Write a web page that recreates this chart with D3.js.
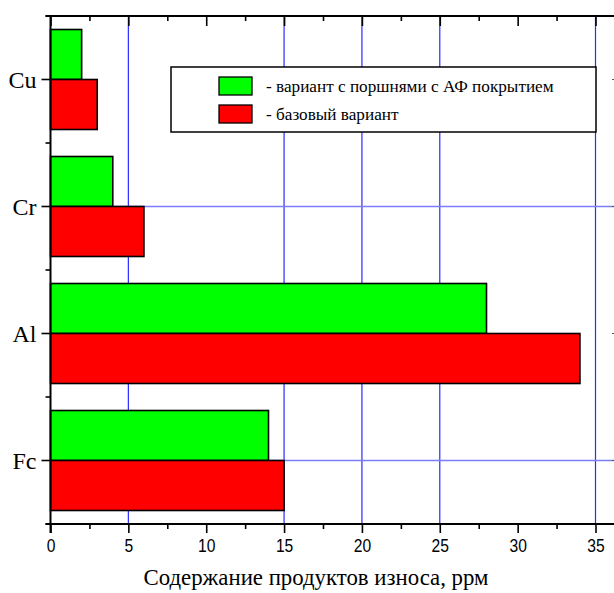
<!DOCTYPE html>
<html><head><meta charset="utf-8">
<script src="https://cdn.jsdelivr.net/npm/d3@7"></script>
<style>
html,body{margin:0;padding:0;background:#fff;}
svg{display:block;}
.serif{font-family:"Liberation Serif","DejaVu Serif","Times New Roman",serif;}
.sans{font-family:"Liberation Sans",Arial,sans-serif;}
</style></head>
<body>
<svg id="chart" width="614" height="593"></svg>
<script>
const categories = ["Cu", "Cr", "Al", "Fc"];
const coated = [2, 4, 28, 14];
const baseline = [3, 6, 34, 15];
const xTickValues = [0, 5, 10, 15, 20, 25, 30, 35];
const xMinorTicks = [2.5, 7.5, 12.5, 17.5, 22.5, 27.5, 32.5];
const xGridValues = [5, 15, 20, 25, 35];
const yGridCategories = ["Cr", "Fc"];
const legendLabels = ["- вариант с поршнями с АФ покрытием", "- базовый вариант"];
const xTitle = "Содержание продуктов износа, ррм";

const svg = d3.select("#chart");
const x = d3.scaleLinear().domain([0, 35]).range([50.5, 595.5]);
const y = d3.scaleBand().domain(categories).range([16, 524]).padding(0);
const barH = 50;
const pad = (y.bandwidth() - 2 * barH) / 2;
const yc = c => y(c) + y.bandwidth() / 2;

// gridlines
svg.append("g").selectAll("line").data(xGridValues).join("line")
  .attr("x1", d => x(d)).attr("x2", d => x(d))
  .attr("y1", 16).attr("y2", 524)
  .attr("stroke", "#2a2aff").attr("stroke-width", 1.2);
svg.append("g").selectAll("line").data(yGridCategories).join("line")
  .attr("x1", x(0)).attr("x2", 640)
  .attr("y1", d => yc(d)).attr("y2", d => yc(d))
  .attr("stroke", "#7c7cff").attr("stroke-width", 1.6);

// bars
const rows = categories.map((c, i) => ({c, g: coated[i], r: baseline[i]}));
const bars = svg.append("g");
bars.selectAll("rect.g").data(rows).join("rect")
  .attr("x", x(0)).attr("y", d => y(d.c) + pad)
  .attr("width", d => x(d.g) - x(0)).attr("height", barH)
  .attr("fill", "#00ff00").attr("stroke", "#000").attr("stroke-width", 1.6);
bars.selectAll("rect.r").data(rows).join("rect")
  .attr("x", x(0)).attr("y", d => y(d.c) + pad + barH)
  .attr("width", d => x(d.r) - x(0)).attr("height", barH)
  .attr("fill", "#ff0000").attr("stroke", "#000").attr("stroke-width", 1.6);

// axes
const axStyle = g => {
  g.select(".domain").remove();
  g.attr("font-family", null).attr("font-size", null);
  g.selectAll(".tick line").attr("stroke", "#000").attr("stroke-width", 1.6);
};
// bottom
svg.append("g").attr("transform", "translate(0,524)")
  .call(d3.axisBottom(x).tickValues(xTickValues).tickSize(9).tickPadding(4).tickFormat(d3.format("d")))
  .call(axStyle)
  .call(g => g.selectAll("text").attr("class", "sans")
      .style("font-size", "17px").attr("fill", "#000")
      .attr("transform", "scale(0.92,1.12)"));
svg.append("g").attr("transform", "translate(0,524)")
  .call(d3.axisBottom(x).tickValues(xMinorTicks).tickSize(5).tickFormat(""))
  .call(axStyle);
// top (ticks inward)
svg.append("g").attr("transform", "translate(0,16)")
  .call(d3.axisBottom(x).tickValues(xTickValues).tickSize(10).tickFormat(""))
  .call(axStyle);
svg.append("g").attr("transform", "translate(0,16)")
  .call(d3.axisBottom(x).tickValues(xMinorTicks).tickSize(5).tickFormat(""))
  .call(axStyle);
// left
const yMinor = categories.map(c => y(c)).concat([y(categories[categories.length - 1]) + y.bandwidth()]);
svg.append("g").attr("transform", `translate(${x(0)},${y.bandwidth()/2})`)
  .call(d3.axisLeft(y).tickSize(9).tickPadding(5))
  .call(axStyle)
  .call(g => g.selectAll(".tick").attr("transform", d => `translate(0,${y(d)})`))
  .call(g => g.selectAll("text").attr("class", "serif")
      .style("font-size", "24px").attr("fill", "#000").attr("dy", "0.36em"));
svg.append("g").selectAll("line").data(yMinor).join("line")
  .attr("x1", x(0) - 5).attr("x2", x(0)).attr("y1", d => d).attr("y2", d => d)
  .attr("stroke", "#000").attr("stroke-width", 1.6);
// right axis ticks (axis line off-canvas)
svg.append("g").selectAll("line").data(categories).join("line")
  .attr("x1", 612).attr("x2", 630).attr("y1", d => yc(d)).attr("y2", d => yc(d))
  .attr("stroke", "#555").attr("stroke-width", 1);

// axis lines
svg.append("line").attr("x1", x(0) - 5).attr("x2", 640).attr("y1", 16).attr("y2", 16)
  .attr("stroke", "#000").attr("stroke-width", 2);
svg.append("line").attr("x1", x(0) - 5).attr("x2", 640).attr("y1", 524).attr("y2", 524)
  .attr("stroke", "#000").attr("stroke-width", 2);
svg.append("line").attr("x1", x(0)).attr("x2", x(0)).attr("y1", 16).attr("y2", 533)
  .attr("stroke", "#000").attr("stroke-width", 2);

// x title
svg.append("text").attr("class", "serif").attr("x", 316).attr("y", 585).attr("text-anchor", "middle")
  .style("font-size", "22.8px").attr("fill", "#000").text(xTitle);

// legend
const lg = svg.append("g");
lg.append("rect").attr("x", 171).attr("y", 67).attr("width", 425).attr("height", 65)
  .attr("fill", "#fff").attr("stroke", "#000").attr("stroke-width", 1.5);
const colors = ["#00ff00", "#ff0000"];
legendLabels.forEach((t, i) => {
  lg.append("rect").attr("x", 219).attr("y", 77 + i * 28).attr("width", 33).attr("height", 18)
    .attr("fill", colors[i]).attr("stroke", "#000").attr("stroke-width", 1.3);
  lg.append("text").attr("class", "serif").attr("x", 266).attr("y", 92 + i * 28)
    .style("font-size", "17.2px").attr("fill", "#000").text(t);
});
</script>
</body></html>
